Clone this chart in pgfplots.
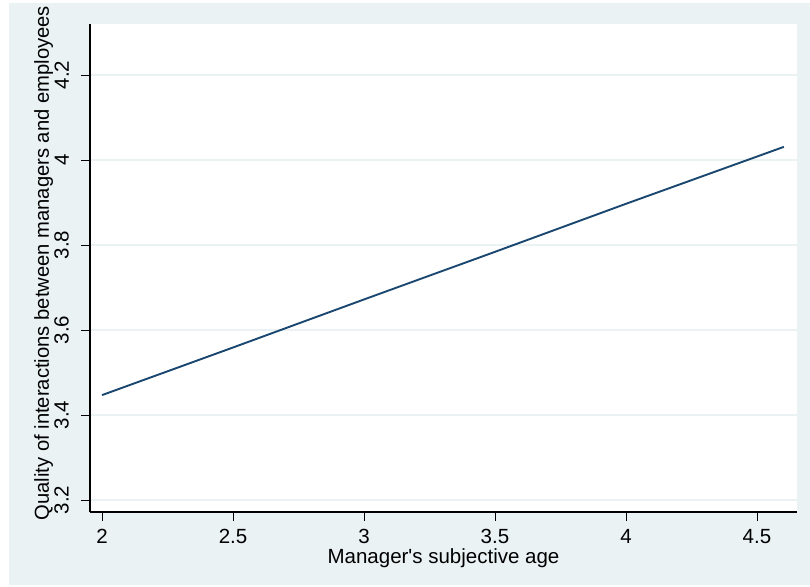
\documentclass[border=0pt]{standalone}
\usepackage{pgfplots}
\pgfplotsset{compat=1.18}
\usepackage{fontspec}
\setmainfont{Liberation Sans}
\definecolor{bgc}{RGB}{234,242,243}
\definecolor{gridc}{RGB}{234,242,243}
\definecolor{navy}{RGB}{26,71,111}
\newcommand{\myfont}{\fontsize{20.5bp}{24bp}\selectfont}
\newcommand{\ylfont}{\fontsize{20.2bp}{24bp}\selectfont}
\begin{document}
\begin{tikzpicture}
\fill[white] (-90bp,-75bp) rectangle (720bp,512bp);
\fill[bgc] (-81bp,-73bp) rectangle (720bp,509bp);
\begin{axis}[
  at={(0,0)}, anchor=south west,
  scale only axis, width=707bp, height=488bp,
  xmin=1.954, xmax=4.653, ymin=3.172, ymax=4.32,
  axis x line*=bottom, axis y line*=left,
  axis line style={-, black, line width=1.1bp},
  axis background/.style={fill=white},
  xtick={2,2.5,3,3.5,4,4.5},
  ytick={3.2,3.4,3.6,3.8,4,4.2},
  tick align=outside,
  major tick length=9bp,
  tick style={black, line width=0.8bp},
  ymajorgrids,
  grid style={gridc, line width=1.5bp},
  /pgf/number format/assume math mode=true,
  ticklabel style={font=\myfont},
  yticklabel style={rotate=90, anchor=south, inner xsep=0pt, inner ysep=12bp},
  xticklabel style={anchor=north, inner xsep=0pt, inner ysep=8bp},
  every axis x label/.style={at={(axis description cs:0.5,0)}, yshift=-51bp, anchor=base, font=\myfont},
  every axis y label/.style={at={(axis description cs:-0.058,0.51)}, rotate=90, anchor=base, font=\ylfont},
  xlabel={Manager\textquotesingle s subjective age},
  ylabel={Quality of interactions between managers and employees},
]
\addplot[navy, line width=1.9bp, no markers] coordinates {
(2.0,3.447) (2.5,3.559) (3.0,3.672) (3.5,3.784) (4.0,3.897) (4.603,4.031)
};
\end{axis}
\end{tikzpicture}
\end{document}
